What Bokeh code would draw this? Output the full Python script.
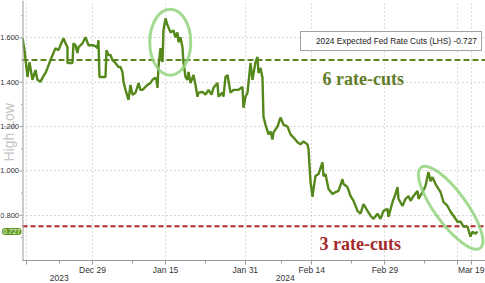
import math
from bokeh.plotting import figure
from bokeh.layouts import row
from bokeh.models import Range1d, FixedTicker, Span, Label, Legend, LegendItem, LinearAxis
from bokeh.core.properties import value
from bokeh.embed import file_html
from bokeh.resources import INLINE

# x = trading-day offset from Fri 29 Dec 2023 (Jan 15 = 11, Jan 31 = 23, Feb 14 = 33, Feb 29 = 44, Mar 19 = 57)
session = [-10.53, -10.23, -9.78, -9.48, -9.03, -8.58, -8.28, -7.83, -7.37, -7.07,
           -6.77, -6.32, -5.87, -5.57, -5.12, -4.82, -4.36, -4.06, -3.76, -3.76,
           -3.01, -2.86, -2.56, -2.26, -2.11, -1.50, -1.05, -0.60, 0.00, 0.45,
           0.75, 0.90, 1.05, 1.96, 2.11, 2.41, 2.71, 3.01, 3.46, 3.91,
           4.21, 4.51, 4.67, 4.97, 5.42, 5.72, 6.02, 6.47, 6.77, 6.92,
           7.22, 7.52, 7.98, 8.28, 8.73, 9.03, 9.48, 9.63, 9.78, 9.93,
           10.23, 10.53, 10.68, 10.99, 11.29, 11.44, 11.74, 12.19, 12.49, 12.79,
           12.94, 13.24, 13.54, 13.69, 14.00, 14.30, 14.45, 14.75, 15.20, 15.50,
           15.80, 15.95, 16.55, 17.01, 17.46, 17.91, 18.21, 18.81, 18.96, 19.56,
           19.71, 20.02, 20.32, 20.77, 21.22, 21.97, 22.57, 22.72, 23.02, 23.33,
           23.78, 24.08, 24.53, 24.83, 24.98, 25.28, 25.58, 25.73, 26.03, 26.49,
           26.79, 27.09, 27.24, 27.84, 28.29, 28.74, 29.35, 29.80, 30.25, 30.85,
           31.30, 31.75, 32.35, 32.51, 32.81, 33.11, 33.26, 33.56, 34.01, 34.61,
           34.76, 35.06, 35.52, 36.12, 36.57, 37.02, 37.62, 37.77, 38.37, 38.83,
           39.28, 39.88, 40.33, 40.78, 41.38, 41.84, 42.29, 42.89, 43.34, 43.79,
           44.39, 44.54, 45.15, 45.60, 45.90, 46.05, 46.65, 47.10, 47.56, 47.86,
           48.31, 48.91, 49.06, 49.66, 50.11, 50.56, 50.87, 51.17, 51.62, 52.07,
           52.37, 52.82, 53.42, 53.88, 54.33, 54.93, 55.38, 55.83, 56.43, 56.88,
           57.19, 57.64, 57.94]
cuts_priced = [1.599, 1.545, 1.424, 1.491, 1.411, 1.455, 1.411, 1.402, 1.429, 1.442,
               1.464, 1.500, 1.532, 1.554, 1.545, 1.567, 1.599, 1.576, 1.558, 1.487,
               1.487, 1.576, 1.567, 1.532, 1.558, 1.576, 1.603, 1.567, 1.567, 1.563,
               1.554, 1.590, 1.424, 1.424, 1.545, 1.523, 1.523, 1.500, 1.487, 1.469,
               1.469, 1.447, 1.402, 1.366, 1.321, 1.388, 1.344, 1.353, 1.379, 1.397,
               1.366, 1.366, 1.379, 1.388, 1.397, 1.411, 1.420, 1.411, 1.375, 1.469,
               1.554, 1.491, 1.634, 1.688, 1.657, 1.648, 1.625, 1.634, 1.603, 1.625,
               1.581, 1.603, 1.558, 1.491, 1.424, 1.411, 1.447, 1.397, 1.433, 1.388,
               1.335, 1.353, 1.357, 1.344, 1.366, 1.344, 1.375, 1.397, 1.335, 1.353,
               1.335, 1.424, 1.433, 1.353, 1.366, 1.366, 1.379, 1.285, 1.335, 1.353,
               1.487, 1.411, 1.491, 1.514, 1.442, 1.464, 1.420, 1.245, 1.209, 1.165,
               1.178, 1.142, 1.174, 1.200, 1.241, 1.209, 1.200, 1.165, 1.151, 1.129,
               1.120, 1.133, 1.120, 1.098, 0.950, 0.883, 0.919, 0.977, 0.986, 1.039,
               0.977, 0.986, 0.919, 0.896, 0.905, 0.910, 0.963, 0.941, 0.927, 0.887,
               0.865, 0.820, 0.807, 0.851, 0.820, 0.798, 0.784, 0.807, 0.784, 0.820,
               0.829, 0.793, 0.860, 0.896, 0.927, 0.874, 0.842, 0.874, 0.887, 0.865,
               0.887, 0.910, 0.874, 0.905, 0.932, 0.995, 0.954, 0.972, 0.941, 0.919,
               0.905, 0.860, 0.842, 0.816, 0.798, 0.771, 0.771, 0.749, 0.749, 0.704,
               0.726, 0.717, 0.727]

x_ticks = [-10, 0, 11, 23, 33, 44, 55, 57]
x_tick_labels = ["", "Dec 29", "Jan 15", "Jan 31", "Feb 14", "Feb 29", "", "Mar 19"]
x_minor_ticks = [-5, 6, 17, 28.5, 39, 50]
year_labels = ["2023", "2024"]
year_centers = [-5, 29]
y_ticks = [0.8, 1.0, 1.2, 1.4, 1.6]
y_tick_labels = ["0.800", "1.000", "1.200", "1.400", "1.600"]
y_minor_ticks = [0.7, 0.9, 1.1, 1.3, 1.5, 1.7]
six_cuts_level = 1.5
three_cuts_level = 0.75
last_value = 0.727
series_name = "2024 Expected Fed Rate Cuts (LHS) -0.727"
# highlight ellipses: centre x, centre y, width px, height px, angle rad
ring_x = [11.7, 53.9]
ring_y = [1.581, 0.834]
ring_w = [41, 100]
ring_h = [66, 32]
ring_angle = [0.0, -0.94]

GREEN = "#55881a"
TEXT = "#333333"
AXIS = "#999999"
FONT = "Liberation Sans"

y_range = Range1d(0.596, 1.769)

# ---------------- main chart ----------------
p = figure(width=463, height=283, output_backend="svg", toolbar_location=None,
           x_range=Range1d(-10.53, 59.14), y_range=y_range,
           min_border_left=0, min_border_right=0, min_border_top=0, min_border_bottom=21)
p.outline_line_color = None
p.yaxis.visible = False

p.xaxis.ticker = FixedTicker(ticks=x_ticks, minor_ticks=x_minor_ticks)
p.xaxis.major_label_overrides = {t: l for t, l in zip(x_ticks, x_tick_labels)}
p.xaxis.major_label_text_font = FONT
p.xaxis.major_label_text_font_size = "8.5px"
p.xaxis.major_label_text_color = TEXT
p.xaxis.major_label_standoff = 0
p.xaxis.axis_line_color = AXIS
p.xaxis.major_tick_line_color = AXIS
p.xaxis.minor_tick_line_color = AXIS
p.xaxis.major_tick_out = 4
p.xaxis.major_tick_in = 0
p.xaxis.minor_tick_out = 3
p.xaxis.minor_tick_in = 0

year_axis = LinearAxis(ticker=FixedTicker(ticks=year_centers),
                       major_label_overrides={t: l for t, l in zip(year_centers, year_labels)},
                       axis_line_color=None, major_tick_line_color=None,
                       minor_tick_line_color=None, major_tick_out=0, major_tick_in=0,
                       minor_tick_out=0, minor_tick_in=0, major_label_standoff=-3,
                       major_label_text_font=FONT, major_label_text_font_size="8.5px",
                       major_label_text_color=TEXT)
p.add_layout(year_axis, "below")

for g, tk in ((p.xgrid, x_ticks), (p.ygrid, y_ticks)):
    g.ticker = FixedTicker(ticks=tk)
    g.grid_line_color = "#b5b5b5"
    g.grid_line_dash = "1 3"
    g.grid_line_width = 1

# left axis line along the frame edge
p.add_layout(Span(location=-10.53, dimension="height", line_color=AXIS, line_width=2))

# reference levels
p.add_layout(Span(location=six_cuts_level, dimension="width", line_color="#5d8420",
                  line_dash="6 3", line_width=2, level="underlay"))
p.add_layout(Span(location=three_cuts_level, dimension="width", line_color="#b0282a",
                  line_dash="5 3", line_width=2, level="underlay"))

# series
p.line(session, cuts_priced, line_color=GREEN, line_width=2.4)

# highlight rings
p.ellipse(x=ring_x, y=ring_y, width=ring_w, height=ring_h, angle=ring_angle,
          width_units="screen", height_units="screen",
          fill_color=None, line_color="#93d47f", line_width=3, line_alpha=0.85)

# legend
sq = p.scatter(x=[], y=[], marker="square", size=7, color=GREEN)
legend = Legend(items=[LegendItem(label=series_name, renderers=[sq])],
                location=(278, 209), padding=4, margin=0, spacing=0,
                glyph_width=7, glyph_height=7, label_standoff=4, label_height=9,
                label_text_font=FONT, label_text_font_size="8.3px",
                label_text_color="#222222", border_line_color="#444444",
                border_line_width=1, background_fill_color="white", background_fill_alpha=1)
p.add_layout(legend)

# rate-cut annotations
p.add_layout(Label(x=300, y=182, x_units="screen", y_units="screen", text="6 rate-cuts",
                   text_font="Liberation Serif", text_font_style="bold", text_font_size="18px",
                   text_color="#5f7d28", text_baseline="alphabetic"))
p.add_layout(Label(x=297, y=17, x_units="screen", y_units="screen", text="3 rate-cuts",
                   text_font="Liberation Serif", text_font_style="bold", text_font_size="18px",
                   text_color="#a32a2b", text_baseline="alphabetic"))

# ---------------- left value-axis strip ----------------
lf = figure(width=22, height=283, output_backend="svg", toolbar_location=None,
            x_range=Range1d(0, 22), y_range=y_range,
            min_border_left=0, min_border_right=0, min_border_top=0, min_border_bottom=21)
lf.outline_line_color = None
lf.xaxis.visible = False
lf.yaxis.visible = False
lf.xgrid.visible = False
lf.ygrid.visible = False

lf.add_layout(Label(x=8, y=134, x_units="screen", y_units="screen", angle=math.pi / 2,
                    text="High    Low", text_font=FONT, text_font_size="14px",
                    text_color="#c4c4c4", text_align="center", text_baseline="middle",
                    level="underlay"))
lf.segment(x0=19, x1=22, y0=y_ticks, y1=y_ticks, line_color=AXIS, line_width=1)
lf.segment(x0=20.5, x1=22, y0=y_minor_ticks, y1=y_minor_ticks, line_color=AXIS, line_width=1)
lf.text(x=18.5, y=y_ticks, text=y_tick_labels, text_align="right", text_baseline="middle",
        text_font=value(FONT), text_font_size=value("7.5px"), text_color=TEXT)
lf.add_layout(Label(x=21, y=last_value, text=f"{last_value:.3f}", text_align="right",
                    text_baseline="middle", text_font=FONT, text_font_size="7px",
                    text_color="white", background_fill_color="#5f9a1e",
                    padding=1, border_radius=3))

layout = row(lf, p, spacing=0)
open("out.html", "w").write(file_html(layout, INLINE))
